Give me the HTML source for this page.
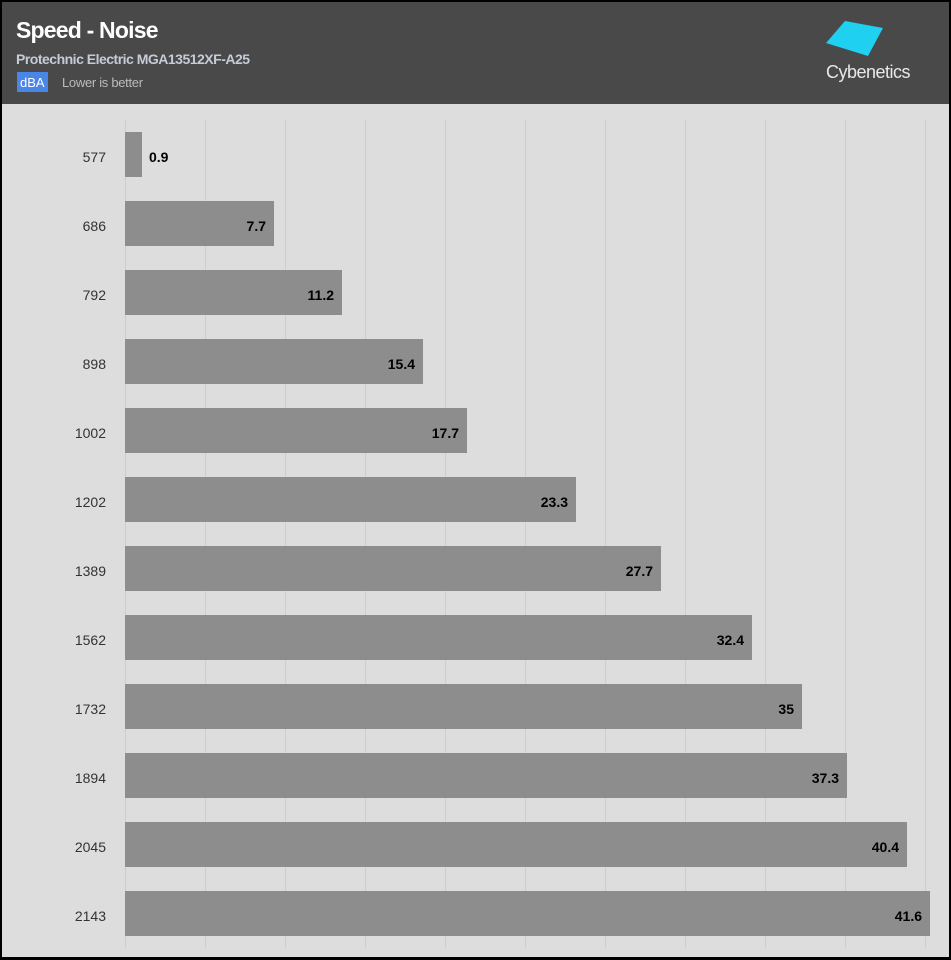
<!DOCTYPE html>
<html><head><meta charset="utf-8"><style>
*{margin:0;padding:0;box-sizing:border-box}
body{width:951px;height:960px;background:#000;position:relative;overflow:hidden;font-family:"Liberation Sans",sans-serif}
#hdr{position:absolute;left:2px;top:2px;width:947px;height:102px;background:#494949}
#plot{position:absolute;left:2px;top:104px;width:947px;height:853px;background:#dddddd}
.t{position:absolute;color:#fff;font-weight:bold;font-size:23px;left:16px;top:17px;letter-spacing:-0.8px}
.s{position:absolute;color:#c5ccd8;font-weight:bold;font-size:14px;left:16px;top:51px;letter-spacing:-0.5px}
.u{position:absolute;left:17px;top:72px;background:#4a86e8;color:#fff;font-size:13px;padding:3px 3px;height:20px}
.l{position:absolute;left:62px;top:75px;color:#bbb;font-size:13px;letter-spacing:-0.3px}
.g{position:absolute;top:120px;height:828px;width:1px;background:#cdcdcd}
.b{position:absolute;left:125px;height:45px;background:#8d8d8d}
.v{position:absolute;font-weight:bold;font-size:14px;color:#000;line-height:51px}
.y{position:absolute;width:100px;left:6px;text-align:right;font-size:14px;color:#333;line-height:51px}
</style></head><body>
<div id="hdr"></div><div id="plot"></div>
<div class="t">Speed - Noise</div>
<div class="s">Protechnic Electric MGA13512XF-A25</div>
<div class="u">dBA</div><div class="l">Lower is better</div>
<svg style="position:absolute;left:810px;top:15px" width="120" height="70">
<polygon points="16,28 35,6 73,13 58,41" fill="#1fd0f0"/>
<text x="58" y="63" text-anchor="middle" font-family="Liberation Sans" font-size="18" fill="#e8e8e8" letter-spacing="-0.5">Cybenetics</text>
</svg>
<div class="g" style="left:125px"></div><div class="g" style="left:205px"></div><div class="g" style="left:285px"></div><div class="g" style="left:365px"></div><div class="g" style="left:445px"></div><div class="g" style="left:525px"></div><div class="g" style="left:605px"></div><div class="g" style="left:685px"></div><div class="g" style="left:765px"></div><div class="g" style="left:845px"></div><div class="g" style="left:925px"></div>
<div id="bars"></div>
<script>
var d=[[577,0.9],[686,7.7],[792,11.2],[898,15.4],[1002,17.7],[1202,23.3],[1389,27.7],[1562,32.4],[1732,35],[1894,37.3],[2045,40.4],[2143,41.6]];
var h='';d.forEach(function(r,i){var y=132+i*69;var w=Math.round(r[1]*19.35);
h+='<div class="y" style="top:'+y+'px">'+r[0]+'</div><div class="b" style="top:'+y+'px;width:'+w+'px"></div>';
if(i==0)h+='<div class="v" style="top:'+y+'px;left:'+(125+w+7)+'px">'+r[1]+'</div>';
else h+='<div class="v" style="top:'+y+'px;left:'+(125+w-8-60)+'px;width:60px;text-align:right">'+r[1]+'</div>';});
document.getElementById('bars').innerHTML=h;
</script>
</body></html>
